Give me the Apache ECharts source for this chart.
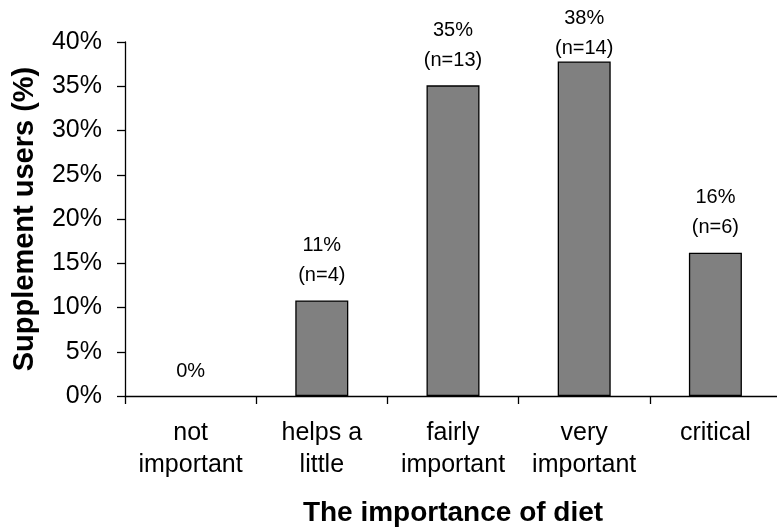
<!DOCTYPE html>
<html>
<head>
<meta charset="utf-8">
<script src="https://cdn.jsdelivr.net/npm/echarts@6/dist/echarts.min.js"></script>
<style>
  html, body { margin: 0; padding: 0; background: #ffffff; }
  #chart { width: 777px; height: 532px; }
</style>
</head>
<body>
<div id="chart"></div>
<script>
// Importance of diet among supplement users
const categories = ['not\nimportant', 'helps a\nlittle', 'fairly\nimportant', 'very\nimportant', 'critical'];
const percentValues = [0, 10.8, 35.1, 37.8, 16.2];
const counts = [0, 4, 13, 14, 6];
const yTickValues = [0, 5, 10, 15, 20, 25, 30, 35, 40];

const FONT = '"Liberation Sans", Arial, sans-serif';

const barData = percentValues.map(function (v, i) {
  const item = { value: v };
  // an empty bar draws no outline
  if (v === 0) item.itemStyle = { borderWidth: 0 };
  // tallest bar sits close to the top of the plot, so its label hugs the bar
  if (i === 3) item.label = { distance: -2 };
  return item;
});

const chart = echarts.init(document.getElementById('chart'), null, { renderer: 'canvas' });

chart.setOption({
  animation: false,
  backgroundColor: '#ffffff',
  // plot area runs slightly past the right edge of the canvas
  grid: { left: 125, width: 656, top: 42, bottom: 136, containLabel: false, outerBoundsMode: 'none' },
  xAxis: {
    type: 'category',
    data: categories,
    name: 'The importance of diet',
    nameLocation: 'middle',
    nameGap: 103,
    nameTextStyle: { fontFamily: FONT, fontSize: 28, fontWeight: 'bold', color: '#000' },
    axisLine: { lineStyle: { color: '#000', width: 1.3 } },
    axisTick: { show: true, length: 8, lineStyle: { color: '#000', width: 1.3 } },
    axisLabel: {
      interval: 0,
      margin: 21,
      fontFamily: FONT,
      fontSize: 25,
      lineHeight: 32,
      color: '#000'
    },
    splitLine: { show: false }
  },
  yAxis: {
    type: 'value',
    min: yTickValues[0],
    max: yTickValues[yTickValues.length - 1],
    interval: yTickValues[1] - yTickValues[0],
    name: 'Supplement users (%)',
    nameLocation: 'middle',
    nameGap: 86,
    nameRotate: 90,
    nameTextStyle: { fontFamily: FONT, fontSize: 29, fontWeight: 'bold', color: '#000' },
    axisLine: { show: true, lineStyle: { color: '#000', width: 1.3 } },
    axisTick: { show: true, inside: false, length: 8, lineStyle: { color: '#000', width: 1.3 } },
    axisLabel: {
      margin: 23,
      fontFamily: FONT,
      fontSize: 25,
      color: '#000',
      formatter: function (v) { return v + '%'; }
    },
    splitLine: { show: false }
  },
  series: [{
    type: 'bar',
    data: barData,
    barWidth: 53,
    itemStyle: { color: '#808080', borderColor: '#000', borderWidth: 1.3 },
    label: {
      show: true,
      position: 'top',
      distance: 10,
      fontFamily: FONT,
      fontSize: 20,
      lineHeight: 30,
      color: '#000',
      formatter: function (p) {
        const pct = Math.round(p.value) + '%';
        const n = counts[p.dataIndex];
        return n > 0 ? pct + '\n(n=' + n + ')' : pct;
      }
    }
  }]
});
</script>
</body>
</html>
